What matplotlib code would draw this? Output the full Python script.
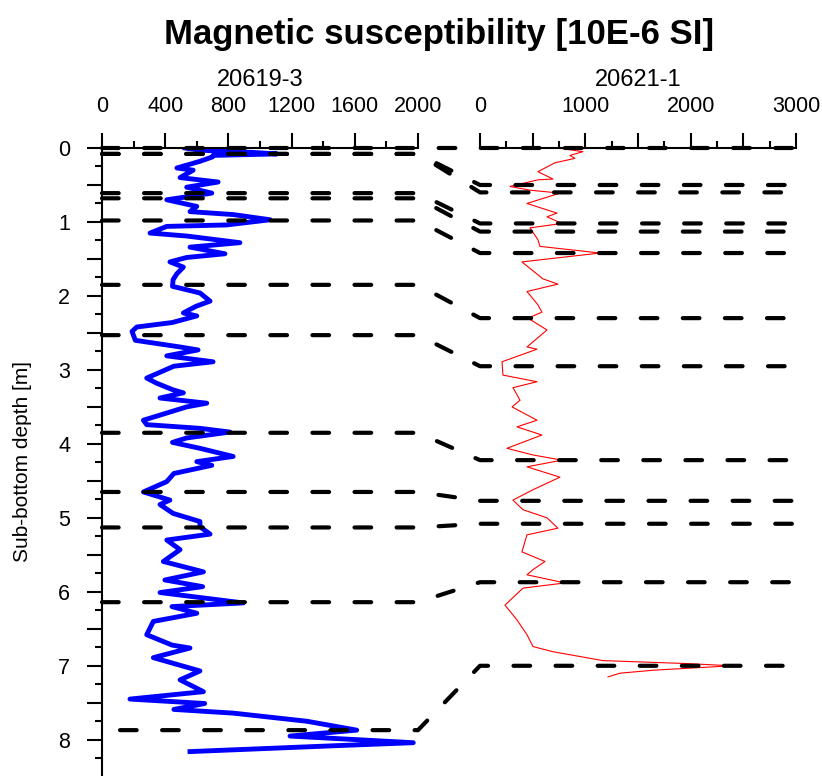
import matplotlib.pyplot as plt
from matplotlib.lines import Line2D
from matplotlib.ticker import MultipleLocator

plt.rcParams['font.family'] = ['Liberation Sans', 'DejaVu Sans']

# core 20619-3: depth [m] and magnetic susceptibility [10E-6 SI]
depth_a = [0.00, 0.03, 0.06, 0.08, 0.10, 0.12, 0.18, 0.27, 0.30, 0.40, 0.46, 0.53, 0.61,
           0.70, 0.79, 0.86, 0.90, 0.97, 1.04, 1.06, 1.15, 1.19, 1.28, 1.34, 1.43, 1.48,
           1.54, 1.61, 1.70, 1.78, 1.87, 1.96, 2.07, 2.14, 2.23, 2.27, 2.36, 2.42, 2.48,
           2.60, 2.69, 2.73, 2.81, 2.89, 2.95, 3.11, 3.18, 3.27, 3.31, 3.38, 3.45, 3.50,
           3.68, 3.74, 3.79, 3.84, 3.92, 3.98, 4.06, 4.17, 4.24, 4.29, 4.40, 4.51, 4.65,
           4.76, 4.82, 4.94, 5.05, 5.12, 5.22, 5.30, 5.43, 5.59, 5.73, 5.84, 5.93, 6.01,
           6.15, 6.20, 6.29, 6.40, 6.58, 6.72, 6.76, 6.89, 7.07, 7.19, 7.35, 7.45, 7.51,
           7.59, 7.64, 7.75, 7.87, 7.95, 8.04, 8.08, 8.16]
susc_a = [525, 620, 957, 1107, 703, 700, 620, 474, 577, 494, 735, 536, 695,
          410, 600, 557, 830, 1064, 790, 410, 304, 536, 873, 557, 778, 536,
          430, 515, 474, 450, 446, 620, 684, 595, 515, 600, 443, 220, 190,
          211, 494, 608, 410, 703, 455, 283, 346, 450, 515, 367, 663, 536,
          262, 283, 620, 810, 536, 446, 620, 830, 600, 695, 455, 410, 262,
          430, 367, 450, 620, 620, 684, 410, 494, 388, 642, 398, 637, 367,
          894, 443, 600, 325, 283, 443, 557, 325, 620, 494, 642, 177, 650,
          455, 830, 1297, 1612, 1190, 1970, 1480, 557]

# core 20621-1
depth_b = [0.00, 0.05, 0.10, 0.14, 0.20, 0.32, 0.42, 0.43, 0.52, 0.57, 0.61, 0.75, 0.88,
           0.93, 1.02, 1.08, 1.24, 1.33, 1.42, 1.54, 1.77, 1.84, 1.94, 2.12, 2.22, 2.30,
           2.46, 2.69, 2.72, 2.89, 3.07, 3.16, 3.24, 3.41, 3.50, 3.68, 3.77, 3.88, 4.06,
           4.15, 4.22, 4.31, 4.45, 4.62, 4.76, 4.89, 5.00, 5.14, 5.23, 5.46, 5.59, 5.70,
           5.77, 5.88, 5.95, 6.18, 6.38, 6.58, 6.74, 6.81, 6.93, 6.97, 7.00, 7.06, 7.10,
           7.15]
susc_b = [740, 977, 854, 901, 712, 550, 693, 550, 285, 474, 759, 446, 731,
          636, 778, 474, 550, 569, 1139, 398, 598, 740, 446, 550, 588, 455,
          636, 446, 541, 209, 218, 541, 313, 380, 304, 541, 351, 588, 256,
          503, 778, 446, 759, 503, 313, 408, 636, 740, 446, 398, 617, 503,
          446, 807, 408, 237, 351, 446, 503, 693, 1167, 1964, 2391, 1645, 1329,
          1215]

# correlation tie points (depth in 20619-3 -> depth in 20621-1)
tie_a = [0.00, 0.08, 0.08, 0.61, 0.68, 0.98, 1.85, 2.53, 3.85, 4.65, 5.13, 6.14, 7.87]
tie_b = [0.00, 0.50, 0.60, 1.02, 1.13, 1.42, 2.30, 2.95, 4.22, 4.77, 5.08, 5.87, 7.00]
tie_a_from = [0, 0, 0, 0, 0, 0, 0, 0, 0, 0, 0, 0, 114]

W, H = 822, 776
fig = plt.figure(figsize=(W / 100, H / 100), dpi=100)
axL = fig.add_axes([102 / W, 0, 316 / W, 628 / H])
axR = fig.add_axes([480 / W, 0, 316 / W, 628 / H])

axL.plot(susc_a, depth_a, color='#0000ff', lw=3.5, solid_joinstyle='round')
axR.plot(susc_b, depth_b, color='red', lw=0.8)

for ax, xmax in [(axL, 2000), (axR, 3000)]:
    ax.set_xlim(0, xmax)
    ax.set_ylim(8.49, 0)
    ax.xaxis.tick_top()
    ax.spines['bottom'].set_visible(False)
    ax.spines['right'].set_visible(False)
    ax.spines['top'].set_linewidth(1.5)
    ax.spines['left'].set_linewidth(1.5)

axL.xaxis.set_major_locator(MultipleLocator(400))
axL.xaxis.set_minor_locator(MultipleLocator(200))
axR.set_xticks([0, 500, 1000, 1500, 2000, 2500, 3000],
               labels=['0', '', '1000', '', '2000', '', '3000'])
axR.xaxis.set_minor_locator(MultipleLocator(250))
axR.spines['left'].set_visible(False)
axR.set_yticks([])
for ax in (axL, axR):
    ax.tick_params(axis='x', which='major', length=11, width=1.5, pad=11, labelsize=15.5)
    ax.tick_params(axis='x', which='minor', length=5, width=1.5)

axL.set_yticks([i * 0.5 for i in range(17)],
               labels=[str(i // 2) if i % 2 == 0 else '' for i in range(17)])
axL.yaxis.set_minor_locator(MultipleLocator(0.25))
axL.tick_params(axis='y', which='major', length=11, width=1.5, pad=12, labelsize=15.5)
axL.tick_params(axis='y', which='minor', length=5, width=1.5)
axL.set_ylabel('Sub-bottom depth [m]', fontsize=15, labelpad=19)

axL.text(0.5, 1 + 62 / 628, '20619-3', transform=axL.transAxes, ha='center',
         va='baseline', fontsize=17)
axR.text(0.5, 1 + 62 / 628, '20621-1', transform=axR.transAxes, ha='center',
         va='baseline', fontsize=17)
fig.text(439 / W, 1 - 44 / H, 'Magnetic susceptibility [10E-6 SI]', ha='center',
         va='baseline', fontsize=25, fontweight='bold')

# tie lines drawn across both panels
to_fig = fig.transFigure.inverted()
for a0, da, db in zip(tie_a_from, tie_a, tie_b):
    pts = list(axL.transData.transform([(a0, da), (2000, da)]))
    pts += list(axR.transData.transform([(0, db), (3000, db)]))
    xy = to_fig.transform(pts)
    fig.add_artist(Line2D(xy[:, 0], xy[:, 1], transform=fig.transFigure, color='black',
                          lw=3, dashes=(4.0, 6.1), dash_capstyle='round',
                          solid_joinstyle='round', dash_joinstyle='round'))

fig.savefig('out.png', dpi=100)
